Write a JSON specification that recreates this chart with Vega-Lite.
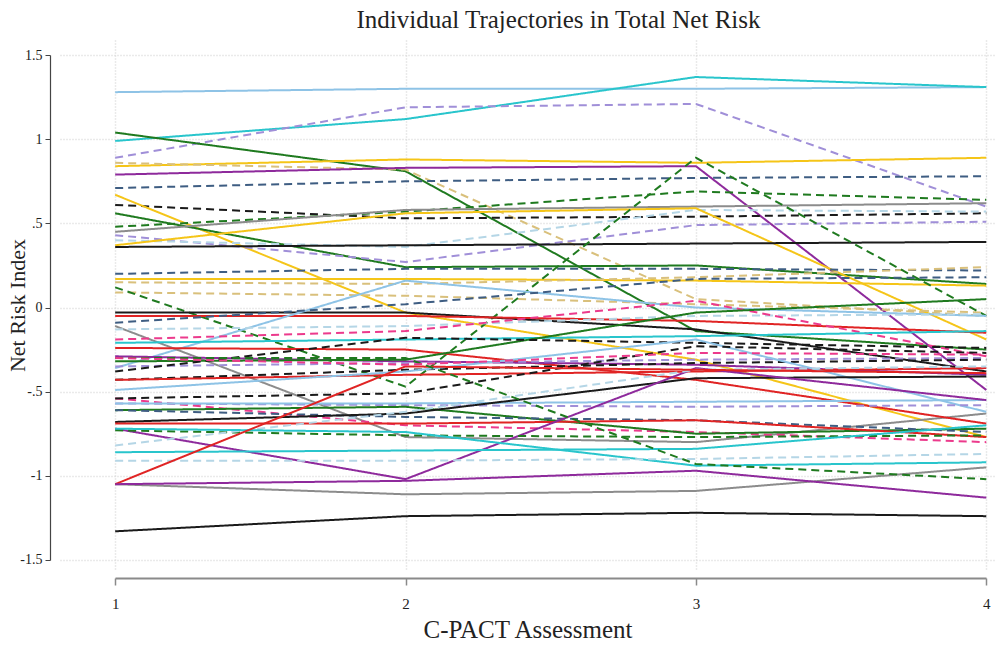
{
  "$schema": "https://vega.github.io/schema/vega-lite/v6.json",
  "width": 935,
  "height": 530,
  "autosize": {"type": "none"},
  "padding": {"left": 60, "top": 40, "right": 0, "bottom": 76},
  "background": "white",
  "title": {"text": "Individual Trajectories in Total Net Risk", "font": "Liberation Serif", "fontSize": 25, "fontWeight": "normal", "color": "#222222", "anchor": "middle", "frame": "group", "dx": 31, "offset": 7},
  "config": {"view": {"stroke": null}},
  "datasets": {
    "traj": [
      {"id":1,"c":"lightblue","s":"solid","t":1,"v":1.28},{"id":1,"c":"lightblue","s":"solid","t":2,"v":1.30},{"id":1,"c":"lightblue","s":"solid","t":3,"v":1.30},{"id":1,"c":"lightblue","s":"solid","t":4,"v":1.31},
      {"id":2,"c":"cyan","s":"solid","t":1,"v":0.99},{"id":2,"c":"cyan","s":"solid","t":2,"v":1.12},{"id":2,"c":"cyan","s":"solid","t":3,"v":1.37},{"id":2,"c":"cyan","s":"solid","t":4,"v":1.31},
      {"id":3,"c":"lavender","s":"dashed","t":1,"v":0.89},{"id":3,"c":"lavender","s":"dashed","t":2,"v":1.19},{"id":3,"c":"lavender","s":"dashed","t":3,"v":1.21},{"id":3,"c":"lavender","s":"dashed","t":4,"v":0.60},
      {"id":4,"c":"green","s":"solid","t":1,"v":1.04},{"id":4,"c":"green","s":"solid","t":2,"v":0.81},{"id":4,"c":"green","s":"solid","t":3,"v":-0.14},{"id":4,"c":"green","s":"solid","t":4,"v":-0.25},
      {"id":5,"c":"yellow","s":"solid","t":1,"v":0.84},{"id":5,"c":"yellow","s":"solid","t":2,"v":0.88},{"id":5,"c":"yellow","s":"solid","t":3,"v":0.86},{"id":5,"c":"yellow","s":"solid","t":4,"v":0.89},
      {"id":6,"c":"tan","s":"dashed","t":1,"v":0.86},{"id":6,"c":"tan","s":"dashed","t":2,"v":0.82},{"id":6,"c":"tan","s":"dashed","t":3,"v":0.05},{"id":6,"c":"tan","s":"dashed","t":4,"v":-0.05},
      {"id":7,"c":"purple","s":"solid","t":1,"v":0.79},{"id":7,"c":"purple","s":"solid","t":2,"v":0.83},{"id":7,"c":"purple","s":"solid","t":3,"v":0.84},{"id":7,"c":"purple","s":"solid","t":4,"v":-0.49},
      {"id":8,"c":"slate","s":"dashed","t":1,"v":0.71},{"id":8,"c":"slate","s":"dashed","t":2,"v":0.75},{"id":8,"c":"slate","s":"dashed","t":3,"v":0.77},{"id":8,"c":"slate","s":"dashed","t":4,"v":0.78},
      {"id":9,"c":"black","s":"dashed","t":1,"v":0.61},{"id":9,"c":"black","s":"dashed","t":2,"v":0.53},{"id":9,"c":"black","s":"dashed","t":3,"v":0.54},{"id":9,"c":"black","s":"dashed","t":4,"v":0.56},
      {"id":10,"c":"yellow","s":"solid","t":1,"v":0.67},{"id":10,"c":"yellow","s":"solid","t":2,"v":-0.03},{"id":10,"c":"yellow","s":"solid","t":3,"v":-0.31},{"id":10,"c":"yellow","s":"solid","t":4,"v":-0.77},
      {"id":11,"c":"green","s":"solid","t":1,"v":0.56},{"id":11,"c":"green","s":"solid","t":2,"v":0.24},{"id":11,"c":"green","s":"solid","t":3,"v":0.25},{"id":11,"c":"green","s":"solid","t":4,"v":0.14},
      {"id":12,"c":"green","s":"dashed","t":1,"v":0.48},{"id":12,"c":"green","s":"dashed","t":2,"v":0.57},{"id":12,"c":"green","s":"dashed","t":3,"v":0.69},{"id":12,"c":"green","s":"dashed","t":4,"v":0.64},
      {"id":13,"c":"gray","s":"solid","t":1,"v":0.45},{"id":13,"c":"gray","s":"solid","t":2,"v":0.58},{"id":13,"c":"gray","s":"solid","t":3,"v":0.60},{"id":13,"c":"gray","s":"solid","t":4,"v":0.62},
      {"id":14,"c":"lavender","s":"dashed","t":1,"v":0.43},{"id":14,"c":"lavender","s":"dashed","t":2,"v":0.27},{"id":14,"c":"lavender","s":"dashed","t":3,"v":0.49},{"id":14,"c":"lavender","s":"dashed","t":4,"v":0.51},
      {"id":15,"c":"paleblue","s":"dashed","t":1,"v":0.40},{"id":15,"c":"paleblue","s":"dashed","t":2,"v":0.36},{"id":15,"c":"paleblue","s":"dashed","t":3,"v":0.58},{"id":15,"c":"paleblue","s":"dashed","t":4,"v":0.57},
      {"id":16,"c":"yellow","s":"solid","t":1,"v":0.37},{"id":16,"c":"yellow","s":"solid","t":2,"v":0.56},{"id":16,"c":"yellow","s":"solid","t":3,"v":0.59},{"id":16,"c":"yellow","s":"solid","t":4,"v":-0.19},
      {"id":17,"c":"black","s":"solid","t":1,"v":0.36},{"id":17,"c":"black","s":"solid","t":2,"v":0.37},{"id":17,"c":"black","s":"solid","t":3,"v":0.38},{"id":17,"c":"black","s":"solid","t":4,"v":0.39},
      {"id":18,"c":"slate","s":"dashed","t":1,"v":0.20},{"id":18,"c":"slate","s":"dashed","t":2,"v":0.23},{"id":18,"c":"slate","s":"dashed","t":3,"v":0.23},{"id":18,"c":"slate","s":"dashed","t":4,"v":0.22},
      {"id":19,"c":"yellow","s":"solid","t":1,"v":0.17},{"id":19,"c":"yellow","s":"solid","t":2,"v":0.17},{"id":19,"c":"yellow","s":"solid","t":3,"v":0.16},{"id":19,"c":"yellow","s":"solid","t":4,"v":0.13},
      {"id":20,"c":"tan","s":"dashed","t":1,"v":0.15},{"id":20,"c":"tan","s":"dashed","t":2,"v":0.14},{"id":20,"c":"tan","s":"dashed","t":3,"v":0.18},{"id":20,"c":"tan","s":"dashed","t":4,"v":0.24},
      {"id":21,"c":"tan","s":"dashed","t":1,"v":0.09},{"id":21,"c":"tan","s":"dashed","t":2,"v":0.07},{"id":21,"c":"tan","s":"dashed","t":3,"v":0.02},{"id":21,"c":"tan","s":"dashed","t":4,"v":-0.03},
      {"id":22,"c":"green","s":"dashed","t":1,"v":0.12},{"id":22,"c":"green","s":"dashed","t":2,"v":-0.47},{"id":22,"c":"green","s":"dashed","t":3,"v":0.89},{"id":22,"c":"green","s":"dashed","t":4,"v":-0.05},
      {"id":23,"c":"black","s":"solid","t":1,"v":-0.03},{"id":23,"c":"black","s":"solid","t":2,"v":-0.03},{"id":23,"c":"black","s":"solid","t":3,"v":-0.13},{"id":23,"c":"black","s":"solid","t":4,"v":-0.38},
      {"id":24,"c":"red","s":"solid","t":1,"v":-0.05},{"id":24,"c":"red","s":"solid","t":2,"v":-0.05},{"id":24,"c":"red","s":"solid","t":3,"v":-0.08},{"id":24,"c":"red","s":"solid","t":4,"v":-0.15},
      {"id":25,"c":"lightblue","s":"solid","t":1,"v":-0.36},{"id":25,"c":"lightblue","s":"solid","t":2,"v":0.16},{"id":25,"c":"lightblue","s":"solid","t":3,"v":0.00},{"id":25,"c":"lightblue","s":"solid","t":4,"v":-0.05},
      {"id":26,"c":"slate","s":"dashed","t":1,"v":-0.09},{"id":26,"c":"slate","s":"dashed","t":2,"v":0.02},{"id":26,"c":"slate","s":"dashed","t":3,"v":0.17},{"id":26,"c":"slate","s":"dashed","t":4,"v":0.18},
      {"id":27,"c":"gray","s":"solid","t":1,"v":-0.11},{"id":27,"c":"gray","s":"solid","t":2,"v":-0.77},{"id":27,"c":"gray","s":"solid","t":3,"v":-0.80},{"id":27,"c":"gray","s":"solid","t":4,"v":-0.63},
      {"id":28,"c":"gray","s":"solid","t":1,"v":-1.05},{"id":28,"c":"gray","s":"solid","t":2,"v":-1.11},{"id":28,"c":"gray","s":"solid","t":3,"v":-1.09},{"id":28,"c":"gray","s":"solid","t":4,"v":-0.95},
      {"id":29,"c":"paleblue","s":"dashed","t":1,"v":-0.13},{"id":29,"c":"paleblue","s":"dashed","t":2,"v":-0.11},{"id":29,"c":"paleblue","s":"dashed","t":3,"v":-0.05},{"id":29,"c":"paleblue","s":"dashed","t":4,"v":-0.04},
      {"id":30,"c":"pink","s":"dashed","t":1,"v":-0.19},{"id":30,"c":"pink","s":"dashed","t":2,"v":-0.14},{"id":30,"c":"pink","s":"dashed","t":3,"v":0.04},{"id":30,"c":"pink","s":"dashed","t":4,"v":-0.29},
      {"id":31,"c":"cyan","s":"solid","t":1,"v":-0.21},{"id":31,"c":"cyan","s":"solid","t":2,"v":-0.19},{"id":31,"c":"cyan","s":"solid","t":3,"v":-0.17},{"id":31,"c":"cyan","s":"solid","t":4,"v":-0.14},
      {"id":32,"c":"red","s":"solid","t":1,"v":-0.24},{"id":32,"c":"red","s":"solid","t":2,"v":-0.25},{"id":32,"c":"red","s":"solid","t":3,"v":-0.43},{"id":32,"c":"red","s":"solid","t":4,"v":-0.69},
      {"id":33,"c":"purple","s":"solid","t":1,"v":-0.29},{"id":33,"c":"purple","s":"solid","t":2,"v":-0.32},{"id":33,"c":"purple","s":"solid","t":3,"v":-0.34},{"id":33,"c":"purple","s":"solid","t":4,"v":-0.40},
      {"id":34,"c":"green","s":"solid","t":1,"v":-0.32},{"id":34,"c":"green","s":"solid","t":2,"v":-0.31},{"id":34,"c":"green","s":"solid","t":3,"v":-0.03},{"id":34,"c":"green","s":"solid","t":4,"v":0.05},
      {"id":35,"c":"lavender","s":"dashed","t":1,"v":-0.35},{"id":35,"c":"lavender","s":"dashed","t":2,"v":-0.33},{"id":35,"c":"lavender","s":"dashed","t":3,"v":-0.31},{"id":35,"c":"lavender","s":"dashed","t":4,"v":-0.30},
      {"id":36,"c":"black","s":"dashed","t":1,"v":-0.38},{"id":36,"c":"black","s":"dashed","t":2,"v":-0.18},{"id":36,"c":"black","s":"dashed","t":3,"v":-0.21},{"id":36,"c":"black","s":"dashed","t":4,"v":-0.24},
      {"id":37,"c":"black","s":"dashed","t":1,"v":-0.43},{"id":37,"c":"black","s":"dashed","t":2,"v":-0.37},{"id":37,"c":"black","s":"dashed","t":3,"v":-0.33},{"id":37,"c":"black","s":"dashed","t":4,"v":-0.31},
      {"id":38,"c":"red","s":"solid","t":1,"v":-0.43},{"id":38,"c":"red","s":"solid","t":2,"v":-0.40},{"id":38,"c":"red","s":"solid","t":3,"v":-0.38},{"id":38,"c":"red","s":"solid","t":4,"v":-0.36},
      {"id":39,"c":"lightblue","s":"solid","t":1,"v":-0.49},{"id":39,"c":"lightblue","s":"solid","t":2,"v":-0.38},{"id":39,"c":"lightblue","s":"solid","t":3,"v":-0.19},{"id":39,"c":"lightblue","s":"solid","t":4,"v":-0.62},
      {"id":40,"c":"pink","s":"dashed","t":1,"v":-0.54},{"id":40,"c":"pink","s":"dashed","t":2,"v":-0.70},{"id":40,"c":"pink","s":"dashed","t":3,"v":-0.74},{"id":40,"c":"pink","s":"dashed","t":4,"v":-0.80},
      {"id":41,"c":"black","s":"dashed","t":1,"v":-0.54},{"id":41,"c":"black","s":"dashed","t":2,"v":-0.51},{"id":41,"c":"black","s":"dashed","t":3,"v":-0.23},{"id":41,"c":"black","s":"dashed","t":4,"v":-0.27},
      {"id":42,"c":"lavender","s":"dashed","t":1,"v":-0.57},{"id":42,"c":"lavender","s":"dashed","t":2,"v":-0.58},{"id":42,"c":"lavender","s":"dashed","t":3,"v":-0.59},{"id":42,"c":"lavender","s":"dashed","t":4,"v":-0.58},
      {"id":43,"c":"lightblue","s":"solid","t":1,"v":-0.57},{"id":43,"c":"lightblue","s":"solid","t":2,"v":-0.57},{"id":43,"c":"lightblue","s":"solid","t":3,"v":-0.56},{"id":43,"c":"lightblue","s":"solid","t":4,"v":-0.55},
      {"id":44,"c":"green","s":"solid","t":1,"v":-0.61},{"id":44,"c":"green","s":"solid","t":2,"v":-0.59},{"id":44,"c":"green","s":"solid","t":3,"v":-0.75},{"id":44,"c":"green","s":"solid","t":4,"v":-0.72},
      {"id":45,"c":"slate","s":"dashed","t":1,"v":-0.61},{"id":45,"c":"slate","s":"dashed","t":2,"v":-0.65},{"id":45,"c":"slate","s":"dashed","t":3,"v":-0.67},{"id":45,"c":"slate","s":"dashed","t":4,"v":-0.74},
      {"id":46,"c":"black","s":"solid","t":1,"v":-0.68},{"id":46,"c":"black","s":"solid","t":2,"v":-0.63},{"id":46,"c":"black","s":"solid","t":3,"v":-0.42},{"id":46,"c":"black","s":"solid","t":4,"v":-0.41},
      {"id":47,"c":"red","s":"solid","t":1,"v":-0.69},{"id":47,"c":"red","s":"solid","t":2,"v":-0.69},{"id":47,"c":"red","s":"solid","t":3,"v":-0.67},{"id":47,"c":"red","s":"solid","t":4,"v":-0.77},
      {"id":48,"c":"purple","s":"solid","t":1,"v":-0.72},{"id":48,"c":"purple","s":"solid","t":2,"v":-1.02},{"id":48,"c":"purple","s":"solid","t":3,"v":-0.36},{"id":48,"c":"purple","s":"solid","t":4,"v":-0.55},
      {"id":49,"c":"green","s":"dashed","t":1,"v":-0.73},{"id":49,"c":"green","s":"dashed","t":2,"v":-0.76},{"id":49,"c":"green","s":"dashed","t":3,"v":-0.77},{"id":49,"c":"green","s":"dashed","t":4,"v":-0.76},
      {"id":50,"c":"paleblue","s":"dashed","t":1,"v":-0.82},{"id":50,"c":"paleblue","s":"dashed","t":2,"v":-0.62},{"id":50,"c":"paleblue","s":"dashed","t":3,"v":-0.37},{"id":50,"c":"paleblue","s":"dashed","t":4,"v":-0.35},
      {"id":51,"c":"cyan","s":"solid","t":1,"v":-0.86},{"id":51,"c":"cyan","s":"solid","t":2,"v":-0.85},{"id":51,"c":"cyan","s":"solid","t":3,"v":-0.84},{"id":51,"c":"cyan","s":"solid","t":4,"v":-0.70},
      {"id":52,"c":"cyan","s":"solid","t":1,"v":-0.72},{"id":52,"c":"cyan","s":"solid","t":2,"v":-0.74},{"id":52,"c":"cyan","s":"solid","t":3,"v":-0.94},{"id":52,"c":"cyan","s":"solid","t":4,"v":-0.92},
      {"id":53,"c":"paleblue","s":"dashed","t":1,"v":-0.91},{"id":53,"c":"paleblue","s":"dashed","t":2,"v":-0.91},{"id":53,"c":"paleblue","s":"dashed","t":3,"v":-0.90},{"id":53,"c":"paleblue","s":"dashed","t":4,"v":-0.87},
      {"id":54,"c":"red","s":"solid","t":1,"v":-1.05},{"id":54,"c":"red","s":"solid","t":2,"v":-0.35},{"id":54,"c":"red","s":"solid","t":3,"v":-0.37},{"id":54,"c":"red","s":"solid","t":4,"v":-0.39},
      {"id":55,"c":"purple","s":"solid","t":1,"v":-1.05},{"id":55,"c":"purple","s":"solid","t":2,"v":-1.03},{"id":55,"c":"purple","s":"solid","t":3,"v":-0.97},{"id":55,"c":"purple","s":"solid","t":4,"v":-1.13},
      {"id":56,"c":"black","s":"solid","t":1,"v":-1.33},{"id":56,"c":"black","s":"solid","t":2,"v":-1.24},{"id":56,"c":"black","s":"solid","t":3,"v":-1.22},{"id":56,"c":"black","s":"solid","t":4,"v":-1.24},
      {"id":57,"c":"green","s":"dashed","t":1,"v":-0.30},{"id":57,"c":"green","s":"dashed","t":2,"v":-0.30},{"id":57,"c":"green","s":"dashed","t":3,"v":-0.93},{"id":57,"c":"green","s":"dashed","t":4,"v":-1.02},
      {"id":58,"c":"pink","s":"dashed","t":1,"v":-0.30},{"id":58,"c":"pink","s":"dashed","t":2,"v":-0.34},{"id":58,"c":"pink","s":"dashed","t":3,"v":-0.27},{"id":58,"c":"pink","s":"dashed","t":4,"v":-0.28}
    ]
  },
  "data": {"name": "traj"},
  "mark": {"type": "line", "strokeWidth": 2, "clip": false},
  "encoding": {
    "x": {
      "field": "t", "type": "quantitative",
      "scale": {"domain": [0.81, 4.03], "nice": false, "zero": false},
      "axis": {
        "values": [1, 2, 3, 4], "format": "d",
        "title": "C-PACT Assessment", "titleFont": "Liberation Serif", "titleFontSize": 25, "titleFontWeight": "normal", "titleColor": "#222222", "titlePadding": 6,
        "labelFont": "Liberation Serif", "labelFontSize": 15, "labelColor": "#222222", "labelPadding": 11,
        "offset": 8, "domainColor": "#8a8a8a", "domainWidth": 2, "domainDash": [0, 55, 871, 9],
        "tickColor": "#8a8a8a", "tickSize": 7, "tickWidth": 1.5,
        "grid": true, "gridColor": "#d6d6d6", "gridDash": [1, 2], "gridWidth": 1.5
      }
    },
    "y": {
      "field": "v", "type": "quantitative",
      "scale": {"domain": [-1.56, 1.59], "nice": false, "zero": false},
      "axis": {
        "values": [-1.5, -1, -0.5, 0, 0.5, 1, 1.5],
        "labelExpr": "replace(replace(format(datum.value, '~g'), '0.', '.'), '\u2212', '-')",
        "title": "Net Risk Index", "titleFont": "Liberation Serif", "titleFontSize": 22, "titleFontWeight": "normal", "titleColor": "#222222", "titlePadding": -10,
        "labelFont": "Liberation Serif", "labelFontSize": 14, "labelColor": "#222222", "labelPadding": 3,
        "offset": 10, "domainColor": "#444444", "domainWidth": 1.2, "domainDash": [0, 10, 505, 15],
        "tickColor": "#444444", "tickSize": 5,
        "grid": true, "gridColor": "#d6d6d6", "gridDash": [1, 2], "gridWidth": 1.5
      }
    },
    "color": {
      "field": "c", "type": "nominal", "legend": null,
      "scale": {
        "domain": ["lightblue", "cyan", "lavender", "green", "yellow", "tan", "purple", "slate", "black", "gray", "red", "pink", "paleblue"],
        "range": ["#8ec3e6", "#29c5cc", "#a08fd8", "#1f7a1f", "#f5c518", "#d9c07c", "#8e2a9c", "#3e5d82", "#1a1a1a", "#8c8c8c", "#e02424", "#ec3a8c", "#b5d6e6"]
      }
    },
    "strokeDash": {
      "field": "s", "type": "nominal", "legend": null,
      "scale": {"domain": ["solid", "dashed"], "range": [[1, 0], [8, 5]]}
    },
    "detail": {"field": "id", "type": "nominal"}
  }
}
